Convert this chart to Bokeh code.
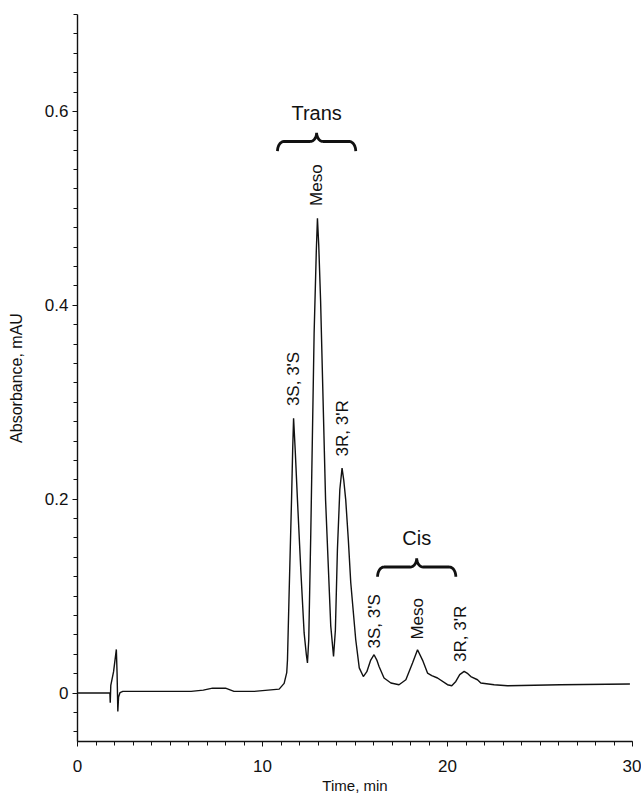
import numpy as np
from bokeh.plotting import figure
from bokeh.models import FixedTicker, Label, Range1d
from bokeh.embed import file_html
from bokeh.resources import INLINE

# ---- data ----
time_min = [0.0, 1.75, 1.77, 1.80, 1.95, 2.10, 2.14, 2.18, 2.22, 2.30, 2.45, 6.14, 6.8, 7.3, 8.0,
            8.46, 9.55, 10.9, 11.17, 11.31, 11.35, 11.43, 11.57, 11.63, 11.68, 11.77, 11.89, 12.07,
            12.25, 12.37, 12.43, 12.50, 12.61, 12.79, 12.91, 12.97, 13.04, 13.14, 13.41, 13.69,
            13.84, 13.94, 14.05, 14.18, 14.30, 14.39, 14.5, 14.64, 14.77, 15.04, 15.23, 15.45,
            15.64, 15.85, 16.03, 16.18, 16.30, 16.57, 16.94, 17.38, 17.75, 18.11, 18.38, 18.65,
            18.92, 19.15, 19.46, 20.0, 20.23, 20.45, 20.66, 20.9, 21.1, 21.26, 21.62, 21.8, 22.52,
            23.24, 26.1, 29.86]
absorbance = [0.0, 0.0, -0.010, 0.008, 0.022, 0.045, 0.020, -0.019, -0.004, 0.0005, 0.0017, 0.0017,
              0.003, 0.005, 0.005, 0.0017, 0.0017, 0.004, 0.010, 0.021, 0.034, 0.096, 0.2, 0.25,
              0.2835, 0.25, 0.199, 0.127, 0.062, 0.0395, 0.031, 0.055, 0.165, 0.371, 0.457, 0.4897,
              0.462, 0.405, 0.199, 0.069, 0.0377, 0.065, 0.148, 0.21, 0.232, 0.22, 0.199, 0.158,
              0.114, 0.055, 0.026, 0.017, 0.022, 0.034, 0.0395, 0.034, 0.0274, 0.0155, 0.0103,
              0.0086, 0.0137, 0.031, 0.0446, 0.034, 0.0206, 0.018, 0.0155, 0.0086, 0.0075, 0.012,
              0.019, 0.0223, 0.020, 0.017, 0.0137, 0.0103, 0.0086, 0.0075, 0.0086, 0.0093]

x_ticks = [0, 10, 20, 30]
y_ticks = [0, 0.2, 0.4, 0.6]
y_tick_labels = ["0", "0.2", "0.4", "0.6"]

# peak annotations
peak_names = ["3S, 3'S", "Meso", "3R, 3'R", "3S, 3'S", "Meso", "3R, 3'R"]
peak_label_t = [11.65, 12.94, 14.32, 16.04, 18.38, 20.72]
peak_label_v = [0.324, 0.524, 0.273, 0.074, 0.0766, 0.061]

# groups with braces
group_names = ["Trans", "Cis"]
group_start = [10.81, 16.22]
group_end = [15.04, 20.45]
group_level = [0.569, 0.130]
group_text_v = [0.598, 0.160]

FONT = "Liberation Sans"

p = figure(width=641, height=796, output_backend="svg", toolbar_location=None,
           x_range=Range1d(0, 30), y_range=Range1d(-0.05, 0.70),
           min_border_left=77, min_border_right=9, min_border_top=14, min_border_bottom=55)
p.outline_line_color = None
p.grid.visible = False
p.background_fill_color = "white"
p.border_fill_color = "white"

p.line(time_min, absorbance, line_color="#111111", line_width=1.4)

# braces
for name, x0, x1, yh, tv in zip(group_names, group_start, group_end, group_level, group_text_v):
    rx = 0.35
    dy_end = -0.010
    dy_cusp = 0.009
    xm = (x0 + x1) / 2
    th = np.linspace(np.pi, np.pi / 2, 10)
    lx = list(x0 + rx + rx * np.cos(th))
    ly = list(yh + dy_end + (-dy_end) * np.sin(th))
    s = np.linspace(0, 1, 10)
    cx = list(xm - rx + rx * np.sin(s * np.pi / 2))
    cy = list(yh + dy_cusp - dy_cusp * np.cos(s * np.pi / 2))
    left_x = lx + cx
    left_y = ly + cy
    right_x = [2 * xm - v for v in reversed(left_x)]
    right_y = list(reversed(left_y))
    p.line(left_x + right_x, left_y + right_y, line_color="#111111", line_width=2.8)
    p.add_layout(Label(x=xm, y=tv, text=name, text_align="center", text_baseline="middle",
                       text_font=FONT, text_font_size="20px", text_color="#111111"))

for name, t, v in zip(peak_names, peak_label_t, peak_label_v):
    p.add_layout(Label(x=t, y=v, text=name, angle=np.pi / 2, text_align="center",
                       text_baseline="middle", text_font=FONT, text_font_size="17px",
                       text_color="#111111"))

# axes
p.xaxis.ticker = FixedTicker(ticks=x_ticks, minor_ticks=list(range(0, 31)))
p.yaxis.ticker = FixedTicker(ticks=y_ticks, minor_ticks=[round(-0.04 + 0.02 * i, 2) for i in range(38)])
p.yaxis.major_label_overrides = {t: l for t, l in zip(y_ticks, y_tick_labels)}

for ax in (p.xaxis, p.yaxis):
    ax.axis_line_color = "#111111"
    ax.axis_line_width = 1.4
    ax.major_tick_line_color = "#111111"
    ax.minor_tick_line_color = "#111111"
    ax.major_tick_in = 0
    ax.minor_tick_in = 0
    ax.major_tick_out = 5
    ax.minor_tick_out = 4
    ax.major_label_text_font = FONT
    ax.major_label_text_font_size = "17px"
    ax.major_label_text_color = "#111111"
    ax.axis_label_text_font = FONT
    ax.axis_label_text_font_style = "normal"
    ax.axis_label_text_color = "#111111"

p.xaxis.axis_label_text_font_size = "15px"
p.yaxis.axis_label_text_font_size = "16px"
p.xaxis.major_label_standoff = 13
p.yaxis.major_label_standoff = 4
p.xaxis.axis_label = "Time, min"
p.yaxis.axis_label = "Absorbance, mAU"
p.xaxis.axis_label_standoff = 2
p.yaxis.axis_label_standoff = 17

open("out.html", "w").write(file_html(p, INLINE))
